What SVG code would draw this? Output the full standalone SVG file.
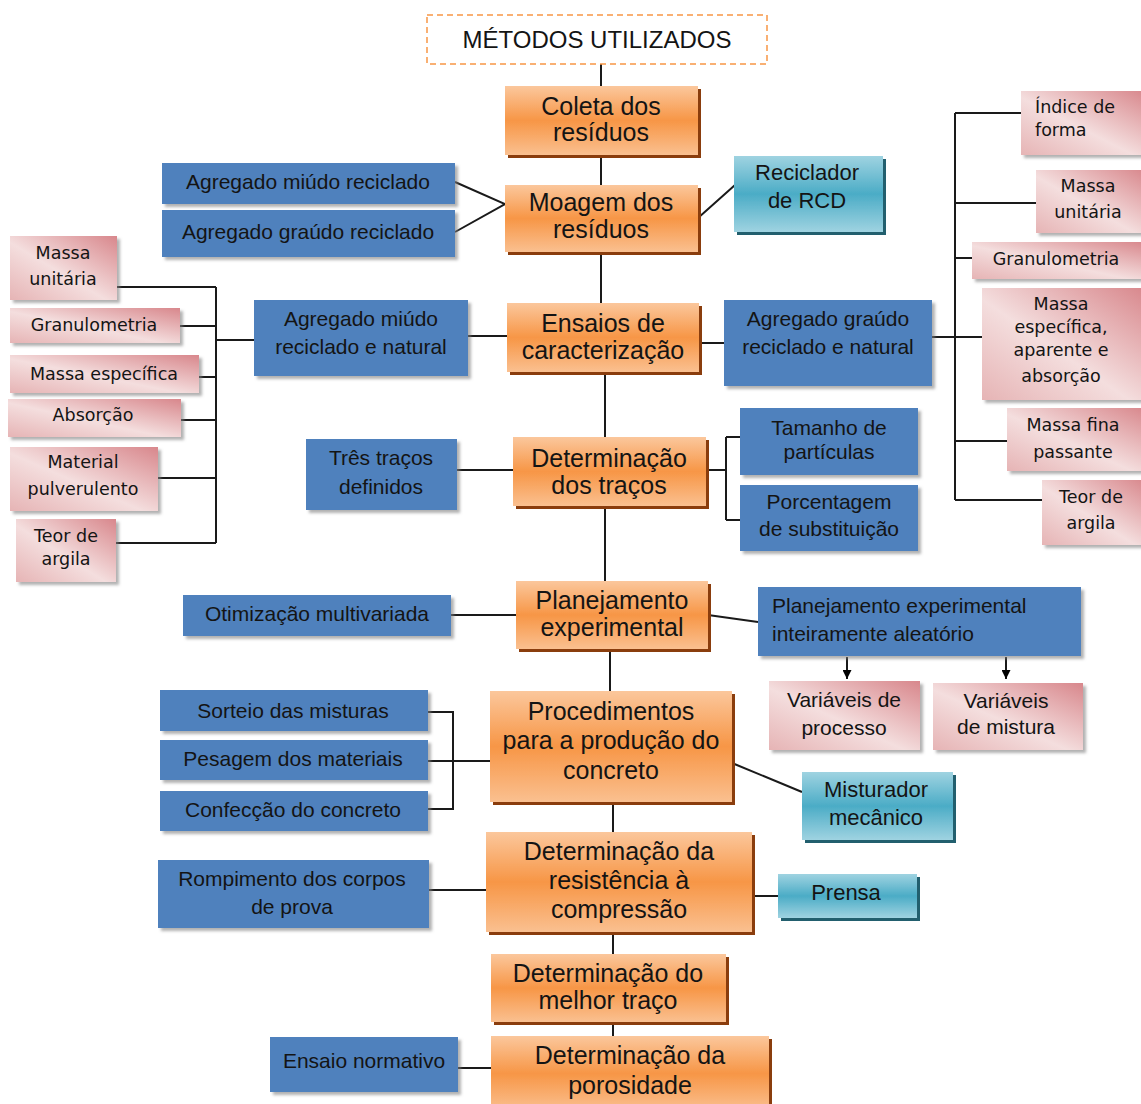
<svg xmlns="http://www.w3.org/2000/svg" width="1141" height="1104" viewBox="0 0 1141 1104">
<defs>
<linearGradient id="gOr" x1="0" y1="0" x2="0" y2="1">
<stop offset="0" stop-color="#FBC79C"/><stop offset="0.5" stop-color="#F79646"/><stop offset="1" stop-color="#FAC090"/>
</linearGradient>
<linearGradient id="gTe" x1="0" y1="0" x2="0" y2="1">
<stop offset="0" stop-color="#9FD3E1"/><stop offset="0.5" stop-color="#4BACC6"/><stop offset="1" stop-color="#9FD3E1"/>
</linearGradient>
<linearGradient id="gPk" x1="1" y1="0" x2="0" y2="1">
<stop offset="0" stop-color="#D8878C"/><stop offset="0.55" stop-color="#F4DEDE"/><stop offset="1" stop-color="#E6B4B5"/>
</linearGradient>
<filter id="shOr" x="-5%" y="-5%" width="115%" height="125%">
<feDropShadow dx="3" dy="3" stdDeviation="0.4" flood-color="#8A3E08" flood-opacity="1"/>
</filter>
<filter id="shTe" x="-5%" y="-5%" width="115%" height="125%">
<feDropShadow dx="3" dy="3" stdDeviation="0.4" flood-color="#245E6E" flood-opacity="1"/>
</filter>
<filter id="shSoft" x="-5%" y="-5%" width="115%" height="125%">
<feDropShadow dx="3" dy="3" stdDeviation="1.5" flood-color="#7F7F7F" flood-opacity="0.6"/>
</filter>
<marker id="arr" viewBox="0 0 10 10" refX="10" refY="5" markerWidth="9" markerHeight="9" orient="auto" markerUnits="userSpaceOnUse">
<path d="M0,0 L10,5 L0,10 Z" fill="#000"/>
</marker>
</defs>
<style>
.or{fill:url(#gOr);filter:url(#shOr)}
.bl{fill:#4F81BD;filter:url(#shSoft)}
.te{fill:url(#gTe);filter:url(#shTe)}
.pk{fill:url(#gPk);filter:url(#shSoft)}
text{font-family:"Liberation Sans",Arial,sans-serif;fill:#141414;dominant-baseline:central;text-anchor:middle}
.to{font-size:25px}
.tb{font-size:21px}
.tt{font-size:22px}
.tp{font-family:"DejaVu Sans",Verdana,sans-serif;font-size:17.5px}
.tv{font-size:21px}
.lft{text-anchor:start}
.ln{stroke:#1a1a1a;stroke-width:2;fill:none}
</style>
<rect width="1141" height="1104" fill="#fff"/>

<g id="connectors">
<path class="ln" d="M601,64 V86 M601,155 V185 M601,252 V303 M605,372 V437 M605,506 V581 M610,649 V691 M613,802 V832 M613,932 V954 M613,1022 V1036"/>
<path class="ln" d="M455,182 L505,204 L455,232 M698,218 L735,185"/>
<path class="ln" d="M117,287 H216 M180,326 H216 M199,377 H216 M181,420 H216 M158,478 H216 M116,543 H216 M216,287 V543 M216,340 H254 M468,336 H507"/>
<path class="ln" d="M699,343 H724 M932,337 H955 M955,113 V500 M955,113 H1021 M955,203 H1036 M955,258 H972 M955,337 H982 M955,441 H1007 M955,500 H1042"/>
<path class="ln" d="M457,470 H513 M706,470 H726 M726,437 V520 M726,437 H740 M726,520 H740"/>
<path class="ln" d="M451,615 H516 M708,615 L758,622"/>
<line class="ln" x1="847" y1="657" x2="847" y2="679" marker-end="url(#arr)"/>
<line class="ln" x1="1006" y1="657" x2="1006" y2="679" marker-end="url(#arr)"/>
<path class="ln" d="M428,712 H453 V809 H428 M428,761 H490 M732,763 L802,792"/>
<path class="ln" d="M429,890 H486 M752,896 H778 M458,1068 H491"/>
</g>

<g id="title">
<rect x="427" y="15" width="340" height="49" fill="#fff" stroke="#F79646" stroke-width="1.5" stroke-dasharray="6,4"/>
<text x="597" y="39" font-size="24">MÉTODOS UTILIZADOS</text>
</g>

<g id="coleta"><rect class="or" x="505" y="86" width="193" height="69"/><text class="to" x="601" y="106">Coleta dos</text><text class="to" x="601" y="132">resíduos</text></g>
<g id="moagem"><rect class="or" x="505" y="185" width="193" height="67"/><text class="to" x="601" y="202">Moagem dos</text><text class="to" x="601" y="229">resíduos</text></g>
<g id="ensaios"><rect class="or" x="507" y="303" width="192" height="69"/><text class="to" x="603" y="323">Ensaios de</text><text class="to" x="603" y="350">caracterização</text></g>
<g id="det-tracos"><rect class="or" x="513" y="437" width="193" height="69"/><text class="to" x="609" y="458">Determinação</text><text class="to" x="609" y="485">dos traços</text></g>
<g id="planejamento"><rect class="or" x="516" y="581" width="192" height="68"/><text class="to" x="612" y="600">Planejamento</text><text class="to" x="612" y="627">experimental</text></g>
<g id="procedimentos"><rect class="or" x="490" y="691" width="242" height="111"/><text class="to" x="611" y="711">Procedimentos</text><text class="to" x="611" y="740">para a produção do</text><text class="to" x="611" y="770">concreto</text></g>
<g id="resistencia"><rect class="or" x="486" y="832" width="266" height="100"/><text class="to" x="619" y="851">Determinação da</text><text class="to" x="619" y="880">resistência à</text><text class="to" x="619" y="909">compressão</text></g>
<g id="melhor"><rect class="or" x="491" y="954" width="235" height="68"/><text class="to" x="608" y="973">Determinação do</text><text class="to" x="608" y="1000">melhor traço</text></g>
<g id="porosidade"><rect class="or" x="491" y="1036" width="278" height="75"/><text class="to" x="630" y="1055">Determinação da</text><text class="to" x="630" y="1085">porosidade</text></g>

<g id="ag-miudo-rec"><rect class="bl" x="162" y="163" width="293" height="41"/><text class="tb" x="308" y="181">Agregado miúdo reciclado</text></g>
<g id="ag-graudo-rec"><rect class="bl" x="162" y="210" width="293" height="47"/><text class="tb" x="308" y="231">Agregado graúdo reciclado</text></g>
<g id="reciclador"><rect class="te" x="734" y="156" width="149" height="76"/><text class="tt" x="807" y="172">Reciclador</text><text class="tt" x="807" y="200">de RCD</text></g>
<g id="ag-miudo-nat"><rect class="bl" x="254" y="300" width="214" height="76"/><text class="tb" x="361" y="318">Agregado miúdo</text><text class="tb" x="361" y="346">reciclado e natural</text></g>
<g id="ag-graudo-nat"><rect class="bl" x="724" y="300" width="208" height="86"/><text class="tb" x="828" y="318">Agregado graúdo</text><text class="tb" x="828" y="346">reciclado e natural</text></g>
<g id="tres-tracos"><rect class="bl" x="306" y="439" width="151" height="71"/><text class="tb" x="381" y="457">Três traços</text><text class="tb" x="381" y="486">definidos</text></g>
<g id="tamanho"><rect class="bl" x="740" y="408" width="178" height="67"/><text class="tb" x="829" y="427">Tamanho de</text><text class="tb" x="829" y="451">partículas</text></g>
<g id="porcentagem"><rect class="bl" x="740" y="485" width="178" height="66"/><text class="tb" x="829" y="501">Porcentagem</text><text class="tb" x="829" y="528">de substituição</text></g>
<g id="otimizacao"><rect class="bl" x="183" y="595" width="268" height="41"/><text class="tb" x="317" y="613">Otimização multivariada</text></g>
<g id="planej-aleatorio"><rect class="bl" x="758" y="587" width="323" height="69"/><text class="tb lft" x="772" y="605">Planejamento experimental</text><text class="tb lft" x="772" y="633">inteiramente aleatório</text></g>
<g id="sorteio"><rect class="bl" x="160" y="690" width="268" height="41"/><text class="tb" x="293" y="710">Sorteio das misturas</text></g>
<g id="pesagem"><rect class="bl" x="160" y="740" width="268" height="40"/><text class="tb" x="293" y="758">Pesagem dos materiais</text></g>
<g id="confeccao"><rect class="bl" x="160" y="791" width="268" height="40"/><text class="tb" x="293" y="809">Confecção do concreto</text></g>
<g id="misturador"><rect class="te" x="802" y="772" width="151" height="68"/><text class="tt" x="876" y="789">Misturador</text><text class="tt" x="876" y="817">mecânico</text></g>
<g id="rompimento"><rect class="bl" x="158" y="860" width="271" height="68"/><text class="tb" x="292" y="878">Rompimento dos corpos</text><text class="tb" x="292" y="906">de prova</text></g>
<g id="prensa"><rect class="te" x="778" y="874" width="139" height="44"/><text class="tt" x="846" y="892">Prensa</text></g>
<g id="ensaio-normativo"><rect class="bl" x="270" y="1037" width="188" height="55"/><text class="tb" x="364" y="1060">Ensaio normativo</text></g>

<g id="l-massa-unit"><rect class="pk" x="10" y="236" width="107" height="64"/><text class="tp" x="63" y="253">Massa</text><text class="tp" x="63" y="279">unitária</text></g>
<g id="l-granulometria"><rect class="pk" x="10" y="308" width="170" height="35"/><text class="tp" x="94" y="325">Granulometria</text></g>
<g id="l-massa-esp"><rect class="pk" x="10" y="355" width="189" height="38"/><text class="tp" x="104" y="374">Massa específica</text></g>
<g id="l-absorcao"><rect class="pk" x="8" y="399" width="173" height="38"/><text class="tp" x="93" y="415">Absorção</text></g>
<g id="l-material"><rect class="pk" x="10" y="447" width="148" height="64"/><text class="tp" x="83" y="462">Material</text><text class="tp" x="83" y="489">pulverulento</text></g>
<g id="l-teor"><rect class="pk" x="16" y="519" width="100" height="63"/><text class="tp" x="66" y="536">Teor de</text><text class="tp" x="66" y="559">argila</text></g>

<g id="r-indice"><rect class="pk" x="1021" y="91" width="125" height="64"/><text class="tp lft" x="1035" y="107">Índice de</text><text class="tp lft" x="1035" y="130">forma</text></g>
<g id="r-massa-unit"><rect class="pk" x="1036" y="170" width="110" height="63"/><text class="tp" x="1088" y="186">Massa</text><text class="tp" x="1088" y="212">unitária</text></g>
<g id="r-granulometria"><rect class="pk" x="972" y="242" width="174" height="37"/><text class="tp" x="1056" y="259">Granulometria</text></g>
<g id="r-massa-esp"><rect class="pk" x="982" y="288" width="164" height="112"/><text class="tp" x="1061" y="304">Massa</text><text class="tp" x="1061" y="327">específica,</text><text class="tp" x="1061" y="350">aparente e</text><text class="tp" x="1061" y="376">absorção</text></g>
<g id="r-massa-fina"><rect class="pk" x="1007" y="408" width="139" height="63"/><text class="tp" x="1073" y="425">Massa fina</text><text class="tp" x="1073" y="452">passante</text></g>
<g id="r-teor"><rect class="pk" x="1042" y="480" width="104" height="65"/><text class="tp" x="1091" y="497">Teor de</text><text class="tp" x="1091" y="523">argila</text></g>
<g id="var-processo"><rect class="pk" x="769" y="681" width="151" height="69"/><text class="tv" x="844" y="699">Variáveis de</text><text class="tv" x="844" y="727">processo</text></g>
<g id="var-mistura"><rect class="pk" x="933" y="683" width="150" height="67"/><text class="tv" x="1006" y="700">Variáveis</text><text class="tv" x="1006" y="726">de mistura</text></g>
</svg>
